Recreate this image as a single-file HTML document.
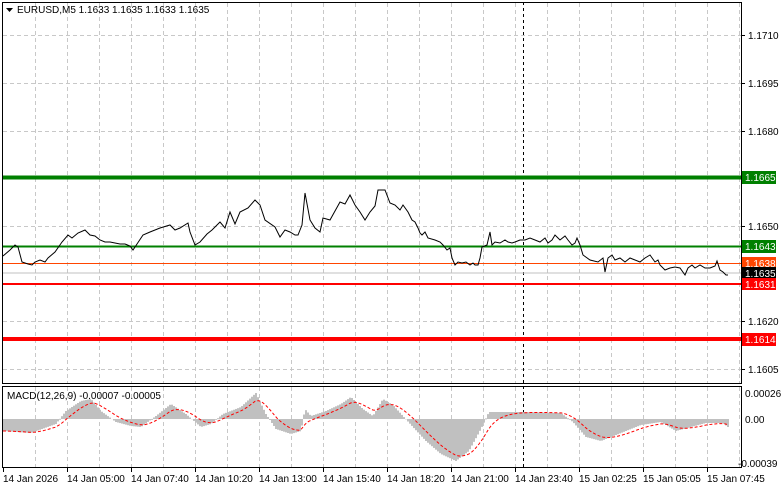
<!DOCTYPE html>
<html><head><meta charset="utf-8"><style>
body{margin:0;background:#fff;width:781px;height:489px;overflow:hidden}
svg{font-family:"Liberation Sans",sans-serif;font-size:10px}
</style></head><body>
<svg id="s" width="781" height="489" xmlns="http://www.w3.org/2000/svg">
<rect width="781" height="489" fill="#fff"/>
<g id="grid" stroke="#c8c8c8" stroke-dasharray="4,3" stroke-width="1"></g>
<line x1="523.5" y1="2" x2="523.5" y2="467" stroke="#000" stroke-dasharray="3,3"/>
<polyline fill="none" stroke="#c0c0c0" stroke-width="1" points="2,273 741,273"/>
<line x1="2" y1="177.5" x2="741" y2="177.5" stroke="#008000" stroke-width="4"/>
<line x1="2" y1="246.5" x2="741" y2="246.5" stroke="#008000" stroke-width="2"/>
<line x1="2" y1="263.5" x2="741" y2="263.5" stroke="#ff4500" stroke-width="1"/>
<line x1="2" y1="284" x2="741" y2="284" stroke="#ff0000" stroke-width="2"/>
<line x1="2" y1="339" x2="741" y2="339" stroke="#ff0000" stroke-width="4"/>
<polyline fill="none" stroke="#000" stroke-width="1" points="3,256 10,250 15,245 18,247 22,262 28,264 32,265 35,262 40,260 45,262 48,258 55,252 62,242 68,235 72,238 78,233 85,230 90,235 95,236 100,240 105,242 110,242 115,243 120,244 125,244 130,246 133,250 137,244 143,235 150,232 160,228 170,225 175,230 180,228 188,223 190,232 195,245 200,242 207,234 212,230 220,222 225,228 230,212 235,224 240,212 248,208 255,200 260,205 265,220 275,227 280,237 285,230 290,232 295,235 298,235 302,225 305,193 310,220 315,228 320,232 323,218 330,220 340,202 345,204 350,195 355,205 360,212 365,220 370,212 375,206 378,190 385,190 390,203 395,205 400,210 403,205 408,212 412,220 415,222 418,228 420,233 422,235 425,232 428,238 435,240 440,242 443,245 447,250 450,248 452,258 455,265 458,262 462,263 466,262 470,265 473,263 475,265 478,265 480,258 482,247 487,245 490,232 492,245 495,242 500,243 505,240 508,242 512,243 515,242 520,240 525,240 530,238 535,240 540,242 545,238 548,243 552,240 555,235 558,238 560,240 565,236 568,240 572,245 575,243 577,238 580,245 583,255 590,260 598,262 603,258 605,272 608,258 612,255 615,260 620,258 625,262 630,258 635,260 640,262 645,258 650,255 655,262 658,260 660,265 665,270 670,268 675,267 680,268 685,275 688,268 692,265 695,268 700,265 705,268 710,268 715,266 717,261 720,270 723,272 726,275 728,275"/>
<g id="hist" fill="#c0c0c0"></g>
<polyline id="sig" fill="none" stroke="#ff0000" stroke-dasharray="3,2" stroke-width="1"/>
<rect x="2.5" y="2.5" width="739" height="381" fill="none" stroke="#000"/>
<rect x="2.5" y="386.5" width="739" height="81" fill="none" stroke="#000"/>
<polygon points="6,8 13,8 9.5,12" fill="#000"/>
<text x="17" y="13">EURUSD,M5  1.1633 1.1635 1.1633 1.1635</text>
<text x="7" y="399">MACD(12,26,9) -0.00007 -0.00005</text>
<g id="ax" fill="#000"></g>
<rect x="742" y="171" width="34" height="13" fill="#008000"/><text x="745" y="181" fill="#fff">1.1665</text>
<rect x="742" y="240" width="34" height="13" fill="#008000"/><text x="745" y="250" fill="#fff">1.1643</text>
<rect x="742" y="257" width="34" height="13" fill="#ff4500"/><text x="745" y="267" fill="#fff">1.1638</text>
<rect x="742" y="267" width="34" height="12" fill="#000"/><text x="745" y="277" fill="#fff">1.1635</text>
<rect x="742" y="278" width="34" height="12" fill="#ff0000"/><text x="745" y="288" fill="#fff">1.1631</text>
<rect x="742" y="333" width="34" height="13" fill="#ff0000"/><text x="745" y="343" fill="#fff">1.1614</text>
</svg>
<script>
var NS="http://www.w3.org/2000/svg";
function el(p,t,a,txt){var e=document.createElementNS(NS,t);for(var k in a)e.setAttribute(k,a[k]);if(txt)e.textContent=txt;document.getElementById(p).appendChild(e);}
for(var x=35;x<741;x+=32){el("grid","line",{x1:x+.5,y1:3,x2:x+.5,y2:383});el("grid","line",{x1:x+.5,y1:387,x2:x+.5,y2:467});}
var ys=[35,83,131,226,321,369],lb=["1.1710","1.1695","1.1680","1.1650","1.1620","1.1605"];
for(var i=0;i<ys.length;i++){el("grid","line",{x1:3,y1:ys[i]+.5,x2:741,y2:ys[i]+.5});el("ax","line",{x1:741,y1:ys[i]+.5,x2:745,y2:ys[i]+.5,stroke:"#000"});el("ax","text",{x:748,y:ys[i]+4},lb[i]);}
el("ax","text",{x:745,y:397},"0.00026");el("ax","text",{x:745,y:423},"0.00");el("ax","text",{x:738,y:467},"-0.00039");
var tl=["14 Jan 2026","14 Jan 05:00","14 Jan 07:40","14 Jan 10:20","14 Jan 13:00","14 Jan 15:40","14 Jan 18:20","14 Jan 21:00","14 Jan 23:40","15 Jan 02:25","15 Jan 05:05","15 Jan 07:45"];
for(var i=0;i<tl.length;i++){var tx=3+64*i;el("ax","line",{x1:tx+.5,y1:467,x2:tx+.5,y2:472,stroke:"#000"});el("ax","text",{x:tx,y:482},tl[i]);}
var k=[[3,-12],[30,-14],[55,-5],[65,8],[80,18],[90,20],[100,8],[115,-3],[130,-7],[140,-8],[155,3],[170,15],[185,5],[200,-8],[210,-5],[222,5],[240,12],[255,26],[265,5],[275,-10],[290,-15],[300,-12],[304,10],[310,3],[325,8],[340,15],[350,22],[362,10],[372,3],[382,20],[392,14],[402,3],[412,-8],[425,-22],[440,-35],[455,-42],[468,-32],[480,-10],[488,7],[520,7],[560,6],[572,-3],[585,-18],[600,-22],[620,-14],[640,-6],[660,-3],[675,-12],[690,-8],[705,-4],[722,-4],[727,-8]];
function v(x){for(var i=0;i<k.length-1;i++){if(x<=k[i+1][0]){var t=(x-k[i][0])/(k[i+1][0]-k[i][0]);return k[i][1]+t*(k[i+1][1]-k[i][1]);}}return k[k.length-1][1];}
var z=419,s=v(3),pts=[];
for(var x=3;x<=728;x+=2){var h=v(x);if(h>=0)el("hist","rect",{x:x,y:z-h,width:2,height:Math.max(h,1)});else el("hist","rect",{x:x,y:z,width:2,height:-h});s+= (h-s)*0.16;pts.push(x+","+(z-s).toFixed(1));}
document.getElementById("sig").setAttribute("points",pts.join(" "));
</script>
</body></html>
